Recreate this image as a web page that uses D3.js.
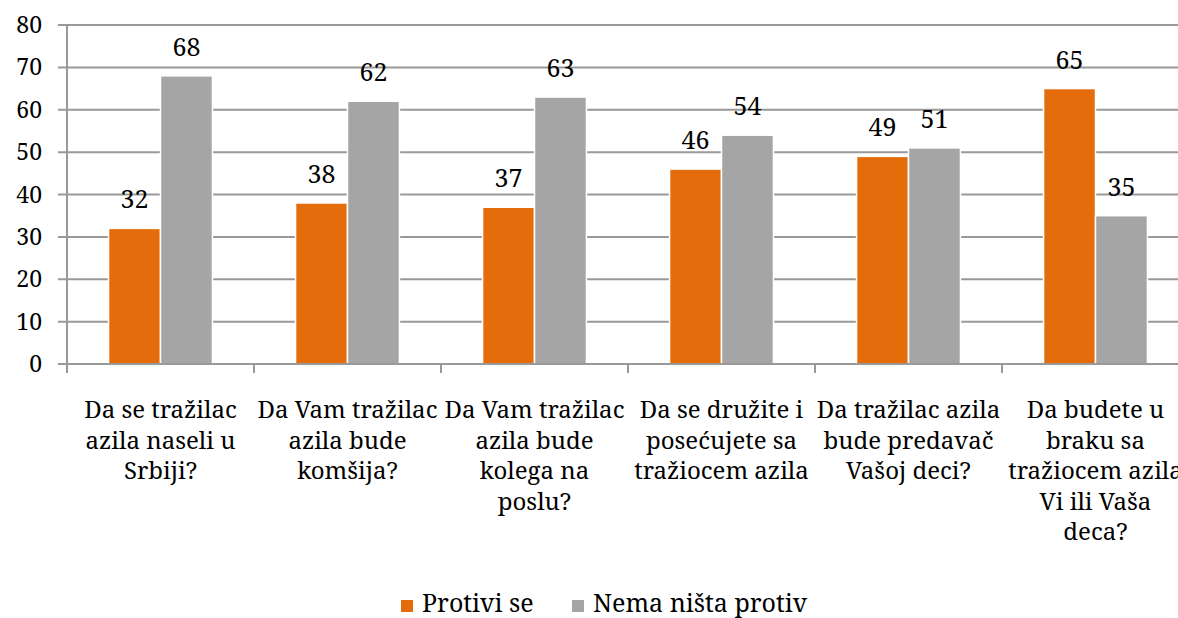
<!DOCTYPE html>
<html>
<head>
<meta charset="utf-8">
<script src="https://cdn.jsdelivr.net/npm/d3@7"></script>
<style>
  body { margin: 0; background: #fff; }
</style>
</head>
<body>
<div id="chart"></div>
<script>
// categories (already wrapped the way the original shows them)
var categories = [
  ["Da se tražilac", "azila naseli u", "Srbiji?"],
  ["Da Vam tražilac", "azila bude", "komšija?"],
  ["Da Vam tražilac", "azila bude", "kolega na", "poslu?"],
  ["Da se družite i", "posećujete sa", "tražiocem azila"],
  ["Da tražilac azila", "bude predavač", "Vašoj deci?"],
  ["Da budete u", "braku sa", "tražiocem azila", "Vi ili Vaša", "deca?"]
];
var seriesNames = ["Protivi se", "Nema ništa protiv"];
var protiviSe = [32, 38, 37, 46, 49, 65];
var nemaNistaProtiv = [68, 62, 63, 54, 51, 35];
var yTicks = [0, 10, 20, 30, 40, 50, 60, 70, 80];
var colors = ["#E46C0A", "#A5A5A5"];

var FONT = "Noto Serif";

var W = 1178, H = 618;
var margin = {top: 25, left: 67},
    plotW = 187 * 6,
    plotH = 364 - margin.top;

var svg = d3.select("#chart").append("svg")
  .attr("width", W)
  .attr("height", H)
  .style("display", "block");

var g = svg.append("g")
  .attr("transform", "translate(" + margin.left + "," + margin.top + ")");

var ids = d3.range(categories.length);

var x = d3.scaleBand()
  .domain(ids)
  .range([0, plotW]);

var y = d3.scaleLinear()
  .domain([0, 80])
  .range([plotH, 0]);

// group of two bars takes 1/(1+0.8) of the band (excel gap width 80)
var x1 = d3.scaleBand()
  .domain([0, 1])
  .range([0, x.bandwidth() / 1.8]);
var groupOffset = (x.bandwidth() - x.bandwidth() / 1.8) / 2;

// gridlines + y ticks
g.selectAll(".grid")
  .data(yTicks)
  .enter().append("line")
    .attr("x1", -9)
    .attr("x2", plotW)
    .attr("y1", function(d) { return y(d); })
    .attr("y2", function(d) { return y(d); })
    .attr("stroke", "#999")
    .attr("stroke-width", 2);

g.selectAll(".ylab")
  .data(yTicks)
  .enter().append("text")
    .attr("x", -25)
    .attr("y", function(d) { return y(d); })
    .attr("dy", "0.35em")
    .attr("text-anchor", "end")
    .attr("font-family", FONT)
    .attr("font-size", 23)
    .attr("fill", "#000")
    .text(function(d) { return d; });

// y axis line
g.append("line")
  .attr("x1", 0).attr("x2", 0)
  .attr("y1", 0).attr("y2", plotH)
  .attr("stroke", "#999")
  .attr("stroke-width", 2);

// bars
var data = [protiviSe, nemaNistaProtiv];
data.forEach(function(vals, s) {
  g.selectAll(".bar" + s)
    .data(vals)
    .enter().append("rect")
      .attr("x", function(d, i) { return x(i) + groupOffset + x1(s); })
      .attr("y", function(d) { return y(d); })
      .attr("width", x1.bandwidth())
      .attr("height", function(d) { return plotH - y(d); })
      .attr("fill", colors[s])
      .attr("stroke", "#fff")
      .attr("stroke-width", 1.5);

  g.selectAll(".lab" + s)
    .data(vals)
    .enter().append("text")
      .attr("x", function(d, i) { return x(i) + groupOffset + x1(s) + x1.bandwidth() / 2; })
      .attr("y", function(d) { return y(d) - 20; })
      .attr("text-anchor", "middle")
      .attr("font-family", FONT)
      .attr("font-size", 25)
      .attr("fill", "#000")
      .text(function(d) { return d; });
});

// x axis
g.append("line")
  .attr("x1", 0).attr("x2", plotW)
  .attr("y1", plotH).attr("y2", plotH)
  .attr("stroke", "#999")
  .attr("stroke-width", 2);

g.selectAll(".xtick")
  .data(d3.range(categories.length + 1))
  .enter().append("line")
    .attr("x1", function(d) { return d * x.step(); })
    .attr("x2", function(d) { return d * x.step(); })
    .attr("y1", plotH)
    .attr("y2", plotH + 9)
    .attr("stroke", "#999")
    .attr("stroke-width", 2);

var catText = g.selectAll(".xlab")
  .data(categories)
  .enter().append("text")
    .attr("text-anchor", "middle")
    .attr("font-family", FONT)
    .attr("font-size", 24)
    .attr("fill", "#000")
    .attr("transform", function(d, i) {
      return "translate(" + (x(i) + x.bandwidth() / 2) + "," + (plotH + 54) + ")";
    });

catText.selectAll("tspan")
  .data(function(d) { return d; })
  .enter().append("tspan")
    .attr("x", 0)
    .attr("y", function(d, i) { return i * 30.5; })
    .text(function(d) { return d; });

// legend
var legend = svg.append("g")
  .attr("transform", "translate(401,600)");

var legX = [0, 171];
seriesNames.forEach(function(name, s) {
  legend.append("rect")
    .attr("x", legX[s])
    .attr("y", 0)
    .attr("width", 12)
    .attr("height", 12)
    .attr("fill", colors[s]);
  legend.append("text")
    .attr("x", legX[s] + 21)
    .attr("y", 12)
    .attr("font-family", FONT)
    .attr("font-size", 25)
    .attr("fill", "#000")
    .text(name);
});
</script>
</body>
</html>
